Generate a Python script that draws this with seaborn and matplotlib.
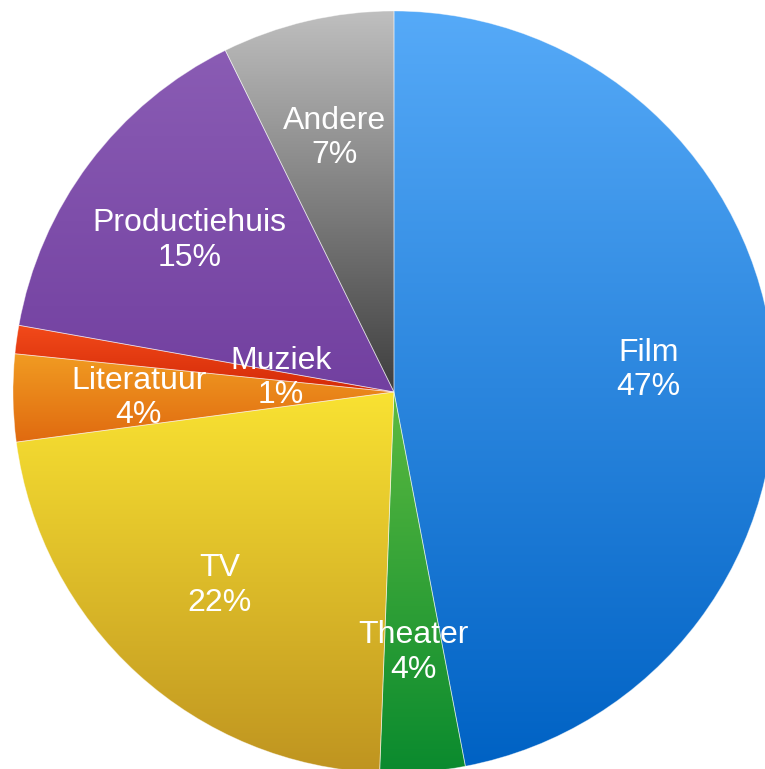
import numpy as np
import matplotlib
matplotlib.use("Agg")
import matplotlib.pyplot as plt
import seaborn as sns
from matplotlib.colors import LinearSegmentedColormap

# =====================================================
# DATA
# =====================================================

categorieen = ["Film", "Theater", "TV", "Literatuur", "Muziek", "Productiehuis", "Andere"]
aandelen = [47.0, 3.6, 22.3, 3.7, 1.2, 14.9, 7.3]

# gradient colours per wedge (top -> bottom)
kleur_boven = ["#56aaf8", "#5cba40", "#f9e232", "#f19c22", "#f24a1a", "#8a5cb4", "#bfbfbf"]
kleur_onder = ["#0062c4", "#0a8a2e", "#bf9420", "#e06a10", "#d42a08", "#7240a0", "#3e3e3e"]

label_afstand = [0.67, 0.68, 0.68, 0.67, 0.30, 0.67, 0.69]

# =====================================================
# STYLE
# =====================================================

sns.set_style("white")
plt.rcParams["font.family"] = ["Liberation Sans", "DejaVu Sans"]

fig = plt.figure(figsize=(7.65, 7.69), dpi=100)
ax = fig.add_axes([0, 0, 1, 1])

R = 381
cx, cy = 394, 392
W, H = 765, 769

wedges, _ = ax.pie(
    aandelen,
    startangle=90,
    counterclock=False,
    radius=1,
    colors=kleur_boven,
    wedgeprops=dict(linewidth=0.6, edgecolor=(1, 1, 1, 0.45)),
)

# =====================================================
# GRADIENTS
# =====================================================

for w, top, bot in zip(wedges, kleur_boven, kleur_onder):
    t = np.radians(np.linspace(w.theta1, w.theta2, 200))
    ys = np.concatenate([[0], np.sin(t)])
    ymin, ymax = ys.min(), ys.max()
    cmap = LinearSegmentedColormap.from_list("g", [bot, top])
    grad = np.linspace(1, 0, 256).reshape(-1, 1)
    im = ax.imshow(
        grad,
        cmap=cmap,
        extent=[-1.05, 1.05, ymin, ymax],
        aspect="auto",
        vmin=0,
        vmax=1,
        zorder=w.get_zorder() + 0.1,
        interpolation="bilinear",
    )
    im.set_clip_path(w)

# edges on top
for w in wedges:
    w.set_facecolor("none")
    w.set_zorder(5)

ax.set_xlim(-cx / R, (W - cx) / R)
ax.set_ylim(-(H - cy) / R, cy / R)
ax.set_aspect("equal")
ax.axis("off")

# =====================================================
# LABELS
# =====================================================

for w, naam, pct, d in zip(wedges, categorieen, aandelen, label_afstand):
    mid = np.radians((w.theta1 + w.theta2) / 2)
    ax.text(
        d * np.cos(mid),
        d * np.sin(mid) - 0.005,
        f"{naam}\n{round(pct)}%",
        ha="center",
        va="center",
        color="white",
        fontsize=23,
        linespacing=1.2,
        zorder=10,
    )

fig.savefig("out.png", dpi=100)
